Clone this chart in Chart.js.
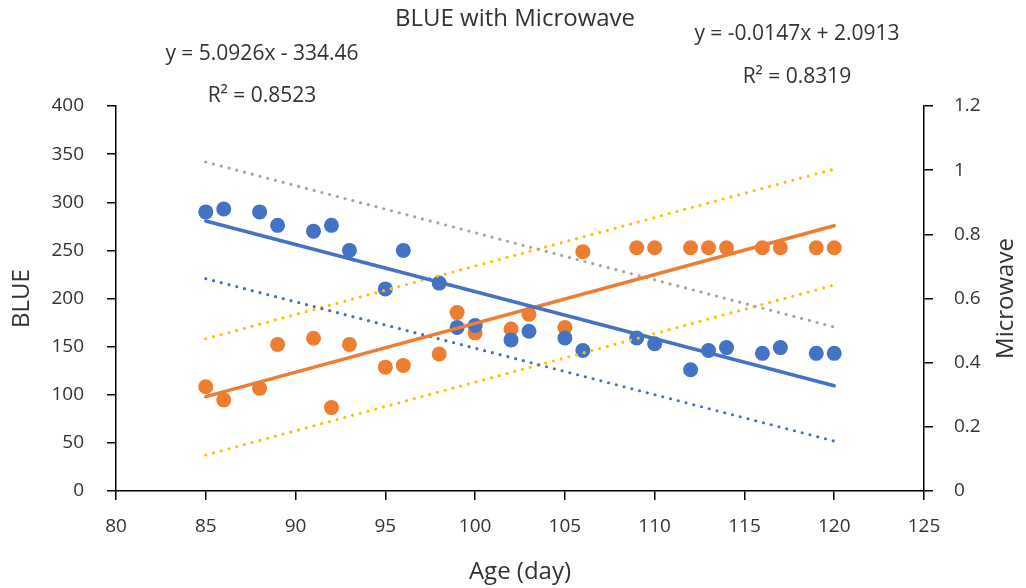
<!DOCTYPE html>
<html>
<head>
<meta charset="utf-8">
<script src="https://cdn.jsdelivr.net/npm/chart.js@4.4.1/dist/chart.umd.min.js"></script>
<style>
  html, body { margin: 0; padding: 0; background: #ffffff; }
  #wrap { width: 1026px; height: 588px; }
</style>
</head>
<body>
<div id="wrap"><canvas id="c" width="1026" height="588"></canvas></div>
<script>
// ---- data ----
const ages = [85, 86, 88, 89, 91, 92, 93, 95, 96, 98, 99, 100, 102, 103, 105, 106, 109, 110, 112, 113, 114, 116, 117, 119, 120];
const blueValues = [290, 293, 290, 276, 270, 276, 250, 210, 250, 216, 170, 172, 157, 166, 159, 146, 159, 153, 126, 146, 149, 143, 149, 143, 143];
const microwaveValues = [0.325, 0.284, 0.320, 0.457, 0.476, 0.260, 0.457, 0.386, 0.391, 0.427, 0.556, 0.493, 0.505, 0.551, 0.510, 0.746, 0.758, 0.758, 0.758, 0.758, 0.758, 0.758, 0.758, 0.758, 0.758];

// trend / band lines (endpoints, in BLUE units)
const trendAges = [85, 120];
const blueTrend = [280.5, 109.4];
const orangeTrend = [98.0, 275.6];
const grayBand = [341.8, 170.4];
const blueBand = [220.6, 51.9];
const yellowUpper = [158.2, 334.5];
const yellowLower = [37.4, 214.0];

const xTickLabels = ['80', '85', '90', '95', '100', '105', '110', '115', '120', '125'];
const leftTickLabels = ['0', '50', '100', '150', '200', '250', '300', '350', '400'];
const rightTickLabels = ['0', '0.2', '0.4', '0.6', '0.8', '1', '1.2'];

const titleText = 'BLUE with Microwave';
const xTitle = 'Age (day)';
const yTitle = 'BLUE';
const y2Title = 'Microwave';
const eq1 = 'y = 5.0926x - 334.46';
const r1 = 'R² = 0.8523';
const eq2 = 'y = -0.0147x + 2.0913';
const r2 = 'R² = 0.8319';

// ---- build ----
const FONT = "'Open Sans', 'Noto Sans', sans-serif";
const TEXT = '#333333';
Chart.defaults.font.family = FONT;
Chart.defaults.color = TEXT;

function pts(xs, ys) { return xs.map((x, i) => ({ x: x, y: ys[i] })); }

function lineDs(data, color, dotted) {
  return {
    type: 'scatter',
    data: pts(trendAges, data),
    showLine: true,
    borderColor: color,
    backgroundColor: color,
    borderWidth: dotted ? 3.2 : 3.5,
    borderDash: dotted ? [0, 8] : [],
    borderCapStyle: 'round',
    pointRadius: 0,
    yAxisID: 'y',
    order: 0
  };
}

const textPlugin = {
  id: 'texts',
  afterDraw(chart) {
    const ctx = chart.ctx;
    const a = chart.chartArea;
    ctx.save();
    ctx.fillStyle = TEXT;
    ctx.textAlign = 'center';
    ctx.textBaseline = 'middle';
    ctx.font = '24px ' + FONT;
    ctx.fillText(titleText, 515, 19);
    ctx.fillText(xTitle, (a.left + a.right) / 2, 572);
    ctx.save();
    ctx.translate(22, (a.top + a.bottom) / 2);
    ctx.rotate(-Math.PI / 2);
    ctx.fillText(yTitle, 0, 0);
    ctx.restore();
    ctx.save();
    ctx.translate(1006, (a.top + a.bottom) / 2);
    ctx.rotate(-Math.PI / 2);
    ctx.fillText(y2Title, 0, 0);
    ctx.restore();
    ctx.font = '21px ' + FONT;
    ctx.fillText(eq1, 262, 54);
    ctx.fillText(r1, 262, 96);
    ctx.fillText(eq2, 797, 34);
    ctx.fillText(r2, 797, 77);
    ctx.restore();
  }
};

const axisCommon = {
  border: { display: true, color: '#000000', width: 1.5 },
  grid: { display: true, drawOnChartArea: false, drawTicks: true, tickLength: 9, color: '#000000', lineWidth: 1.5 }
};

new Chart(document.getElementById('c'), {
  type: 'scatter',
  data: {
    datasets: [
      lineDs(blueTrend, '#4472C4', false),
      lineDs(orangeTrend, '#ED7D31', false),
      lineDs(grayBand, '#A5A5A5', true),
      lineDs(blueBand, '#4472C4', true),
      lineDs(yellowUpper, '#FFC000', true),
      lineDs(yellowLower, '#FFC000', true),
      {
        label: 'BLUE',
        data: pts(ages, blueValues),
        backgroundColor: '#4472C4',
        borderWidth: 0,
        pointRadius: 7.5,
        yAxisID: 'y',
        order: 1
      },
      {
        label: 'Microwave',
        data: pts(ages, microwaveValues),
        backgroundColor: '#ED7D31',
        borderWidth: 0,
        pointRadius: 7.5,
        yAxisID: 'y2',
        order: 2
      }
    ]
  },
  options: {
    responsive: false,
    animation: false,
    events: [],
    layout: { padding: { top: 106, left: 0, right: 0, bottom: 0 } },
    plugins: { legend: { display: false }, tooltip: { enabled: false }, title: { display: false } },
    scales: {
      x: Object.assign({}, axisCommon, {
        type: 'linear', position: 'bottom', min: 80, max: 125,
        afterFit(s) { s.height = 97; },
        ticks: { stepSize: 5, padding: 15, font: { size: 19 }, color: TEXT,
          callback: (v, i) => xTickLabels[i] }
      }),
      y: Object.assign({}, axisCommon, {
        type: 'linear', position: 'left', min: 0, max: 400,
        afterFit(s) { s.width = 116; },
        ticks: { stepSize: 50, padding: 23, font: { size: 19 }, color: TEXT,
          callback: (v, i) => leftTickLabels[i] }
      }),
      y2: Object.assign({}, axisCommon, {
        type: 'linear', position: 'right', min: 0, max: 1.2,
        afterFit(s) { s.width = 102; },
        ticks: { stepSize: 0.2, padding: 21, font: { size: 19 }, color: TEXT,
          callback: (v, i) => rightTickLabels[i] }
      })
    }
  },
  plugins: [textPlugin]
});
</script>
</body>
</html>
